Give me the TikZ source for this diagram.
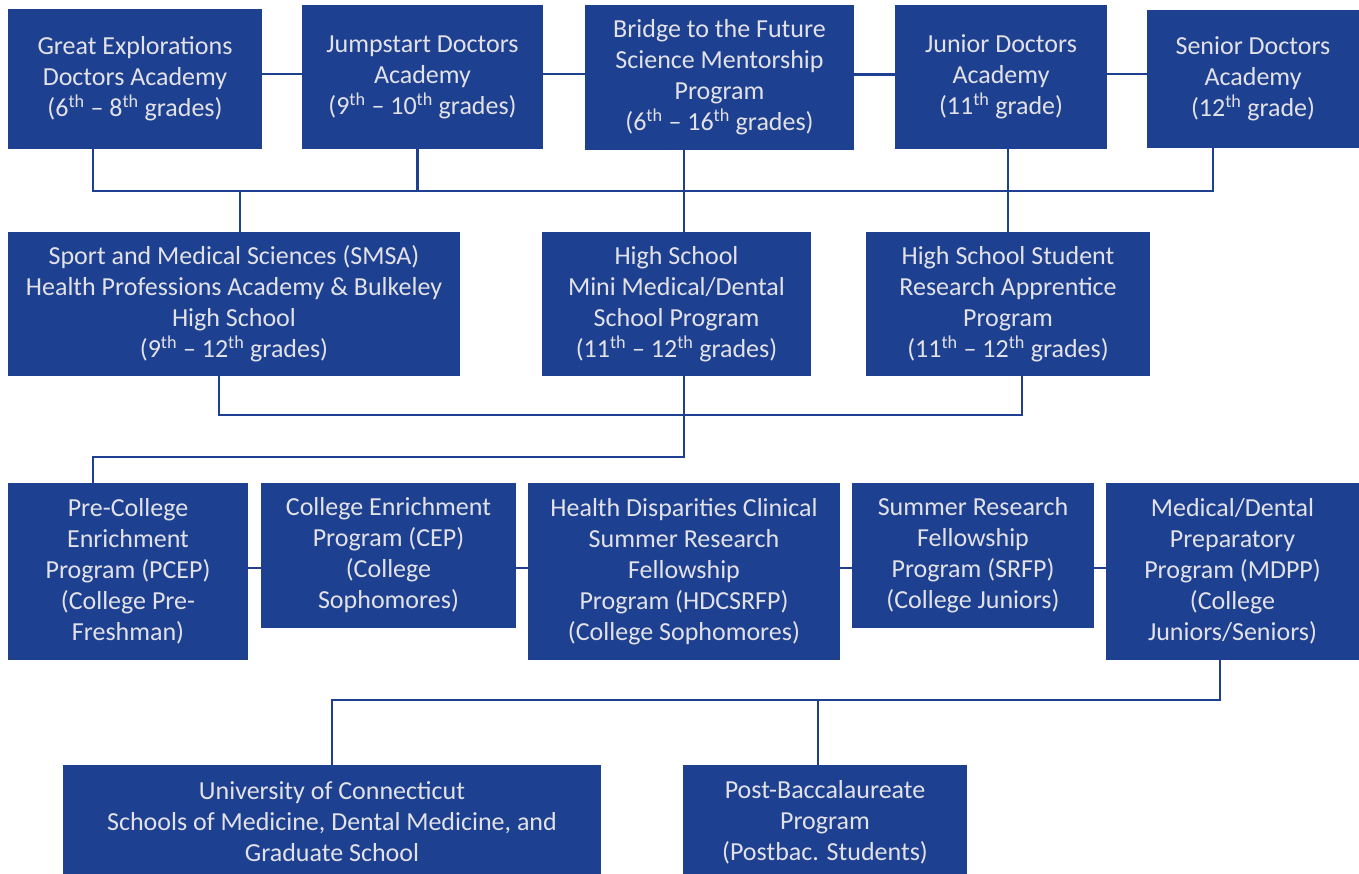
\documentclass[tikz,border=0pt]{standalone}
\usepackage{fontspec}
\setmainfont{Carlito}
\usepackage{tikz}
\usetikzlibrary{positioning}

\definecolor{progblue}{RGB}{30,64,145}
\definecolor{progtext}{RGB}{226,226,230}
\newcommand{\ordth}{\textsuperscript{th}}

\begin{document}
\begin{tikzpicture}[x=1pt, y=-1pt,
    prog/.style={fill=progblue, text=progtext, inner sep=0pt, align=center,
                 font=\fontsize{26}{31}\selectfont},
    link/.style={draw=progblue, line width=2.2pt}]
    \clip (0,0) rectangle (1359,874);
    % top row
    \node[prog, minimum width=254pt, minimum height=140pt] (ge) at (135,79)
        {Great Explorations\\Doctors Academy\\(6\ordth{} -- 8\ordth{}  grades)};
    \node[prog, minimum width=241pt, minimum height=144pt] (jsd) at (422.5,77)
        {Jumpstart Doctors\\Academy\\(9\ordth{} -- 10\ordth{} grades)};
    \node[prog, minimum width=269pt, minimum height=145pt] (btf) at (719.5,77.5)
        {Bridge to the Future\\Science Mentorship\\Program\\(6\ordth{} -- 16\ordth{} grades)};
    \node[prog, minimum width=212pt, minimum height=144pt] (jrd) at (1001,77)
        {Junior Doctors\\Academy\\(11\ordth{} grade)};
    \node[prog, minimum width=212pt, minimum height=138pt] (srd) at (1253,79)
        {Senior Doctors\\Academy\\(12\ordth{} grade)};
    % high school row
    \node[prog, minimum width=452pt, minimum height=144pt] (smsa) at (234,304)
        {Sport and Medical Sciences (SMSA)\\Health Professions Academy \& Bulkeley\\High School\\(9\ordth{} -- 12\ordth{} grades)};
    \node[prog, minimum width=269pt, minimum height=144pt] (hsmm) at (676.5,304)
        {High School\\Mini Medical/Dental\\School Program\\(11\ordth{} -- 12\ordth{} grades)};
    \node[prog, minimum width=284pt, minimum height=144pt] (hssr) at (1008,304)
        {High School Student\\Research Apprentice\\Program\\(11\ordth{} -- 12\ordth{} grades)};
    % college row
    \node[prog, minimum width=240pt, minimum height=177pt] (pcep) at (128,571.5)
        {Pre-College\\Enrichment\\Program (PCEP)\\(College Pre-\\Freshman)};
    \node[prog, minimum width=255pt, minimum height=145pt] (cep) at (388.5,555.5)
        {College Enrichment\\Program (CEP)\\(College\\Sophomores)};
    \node[prog, minimum width=312pt, minimum height=177pt] (hdc) at (684,571.5)
        {Health Disparities Clinical\\Summer Research\\Fellowship\\Program (HDCSRFP)\\(College Sophomores)};
    \node[prog, minimum width=242pt, minimum height=145pt] (srfp) at (973,555.5)
        {Summer Research\\Fellowship\\Program (SRFP)\\(College Juniors)};
    \node[prog, minimum width=253pt, minimum height=177pt] (mdpp) at (1232.5,571.5)
        {Medical/Dental\\Preparatory\\Program (MDPP)\\(College\\Juniors/Seniors)};
    % graduate row
    \node[prog, minimum width=538pt, minimum height=114pt] (uconn) at (332,822)
        {University of Connecticut\\Schools of Medicine, Dental Medicine, and\\Graduate School};
    \node[prog, minimum width=284pt, minimum height=114pt] (pbac) at (825,822)
        {Post-Baccalaureate\\Program\\(Postbac. Students)};

    % connectors, top row
    \draw[link] ([yshift=5pt]ge.east) -- ([yshift=5pt]ge.east -| jsd.west);
    \draw[link] ([yshift=3pt]jsd.east) -- ([yshift=3pt]jsd.east -| btf.west);
    \draw[link] ([yshift=3pt]btf.east) -- ([yshift=3pt]btf.east -| jrd.west);
    \draw[link] ([yshift=3pt]jrd.east) -- ([yshift=3pt]jrd.east -| srd.west);
    \coordinate (bus1) at (240,191);
    \draw[link] ([xshift=-42pt]ge.south) |- ([xshift=-40pt]srd.south |- bus1)
        -- ([xshift=-40pt]srd.south);
    \draw[link] ([xshift=-5pt]jsd.south) -- ([xshift=-5pt]jsd.south |- bus1);
    \draw[link] (bus1) -- (bus1 |- smsa.north);
    \draw[link] ([xshift=7.5pt]hsmm.north |- btf.south) -- ([xshift=7.5pt]hsmm.north);
    \draw[link] (hssr.north |- jrd.south) -- (hssr.north);
    % connectors, high school to college
    \coordinate (bus2) at (219,415);
    \draw[link] ([xshift=-15pt]smsa.south) |- ([xshift=14pt]hssr.south |- bus2)
        -- ([xshift=14pt]hssr.south);
    \coordinate (bus3) at (93,457);
    \draw[link] ([xshift=7.5pt]hsmm.south) |- (bus3) -- (bus3 |- pcep.north);
    % connectors, college row
    \draw[link] ([yshift=3.5pt]pcep.east) -- ([yshift=3.5pt]pcep.east -| cep.west);
    \draw[link] ([yshift=-12.5pt]cep.east) -- ([yshift=-12.5pt]cep.east -| hdc.west);
    \draw[link] ([yshift=3.5pt]hdc.east) -- ([yshift=3.5pt]hdc.east -| srfp.west);
    \draw[link] ([yshift=3.5pt]mdpp.west -| srfp.east) -- ([yshift=3.5pt]mdpp.west);
    % connectors, college to graduate
    \coordinate (bus4) at (818,700);
    \draw[link] ([xshift=-12.5pt]mdpp.south) |- (bus4 -| uconn.north) -- (uconn.north);
    \draw[link] (bus4) -- (bus4 |- pbac.north);
\end{tikzpicture}
\end{document}
